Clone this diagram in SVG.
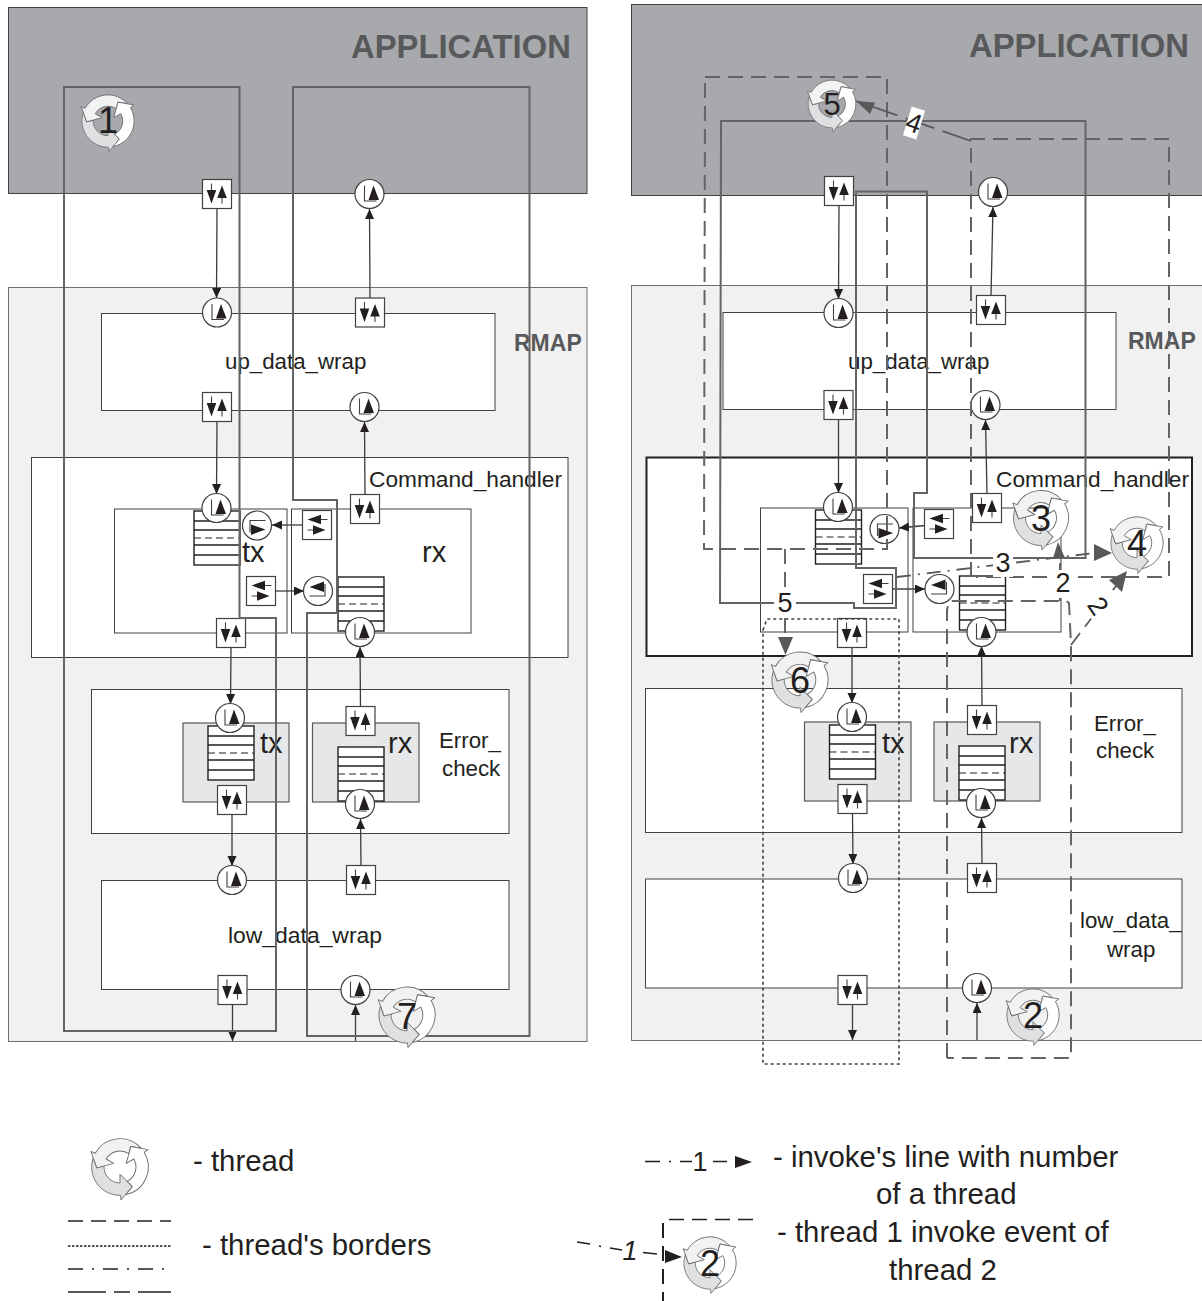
<svg xmlns="http://www.w3.org/2000/svg" width="1202" height="1301" viewBox="0 0 1202 1301">
<style>
text{font-family:"Liberation Sans",Arial,sans-serif;fill:#231f20}
.t22{font-size:22.300px}.t28{font-size:29px}.t29{font-size:29.400px}.t26{font-size:27px}
.big{font-size:32.800px;font-weight:bold;fill:#58595b}.rm{font-size:23px;font-weight:bold;fill:#58595b}
.num{font-size:36px;text-anchor:middle}
.blk{fill:#fff;stroke:#414042;stroke-width:1}
.app{fill:#a7a9ac;stroke:#414042;stroke-width:1}
.rmap{fill:#f1f1f2;stroke:#6d6e71;stroke-width:1}
.gry{fill:#e6e7e8;stroke:#58595b;stroke-width:1.2}
.bd{fill:none;stroke:#636466;stroke-width:2}
.dash{stroke-dasharray:15 8}
.dot{stroke-dasharray:3 3}
.conn{fill:none;stroke:#3c3c3e;stroke-width:1.3;marker-end:url(#ah)}
.inv{fill:none;stroke:#58595b;stroke-width:1.8}
.lg{fill:none;stroke:#231f20;stroke-width:1.6}
</style>
<defs>
<marker id="ah" markerUnits="userSpaceOnUse" markerWidth="10" markerHeight="11" refX="10" refY="4.5" orient="auto"><path d="M0 0L10 4.5L0 9Z" fill="#231f20"/></marker>
<g id="box"><rect x="-14.5" y="-14.5" width="29" height="29" fill="#fff" stroke="#414042" stroke-width="1.2"/><path d="M-5.5-10.5V4M5 -4V9.5" stroke="#414042" stroke-width="1.1" fill="none"/><path d="M-10.300-4H-.7L-5.500 9.500ZM.2 4H9.800L5-8.500Z" fill="#231f20"/></g>
<g id="cir"><circle r="14.5" fill="#fff" stroke="#414042" stroke-width="1.2"/><path d="M-5-8.5V7H7" stroke="#414042" stroke-width="1.1" fill="none"/><path d="M4-8.500L9.500 6H-1Z" fill="#231f20"/></g>
<g id="stk"><rect width="46" height="54" fill="#fff" stroke="#231f20" stroke-width="1.4"/><path d="M0 10H46M0 19H46M0 34H46M0 44H46" stroke="#231f20" stroke-width="1.4"/><path d="M0 27H46" stroke="#231f20" stroke-width="1.1" stroke-dasharray="7 4"/></g>
<g id="thr" stroke="#6d6e71" stroke-width=".9" stroke-linejoin="round">
<path d="M1 32L.5 27.5A27.5 27.5 0 0 1-26-8.9L-22.5.9L-15.5-.9A15.5 15.5 0 0 0 0 15.5L0 7L12 19Z" fill="#dfe0e2"/>
<path d="M1 32L.5 27.5A27.5 27.5 0 0 1-26-8.9L-22.5.9L-15.5-.9A15.5 15.5 0 0 0 0 15.5L0 7L12 19Z" fill="#f1f2f2" transform="rotate(120)"/>
<path d="M1 32L.5 27.5A27.5 27.5 0 0 1-26-8.9L-22.5.9L-15.5-.9A15.5 15.5 0 0 0 0 15.5L0 7L12 19Z" fill="#fff" transform="rotate(240)"/>
</g>
</defs>

<g id="blocks-left">
<rect id="app-l" class="app" x="8.5" y="7.5" width="578.5" height="186"/>
<rect id="rmap-l" class="rmap" x="8.5" y="287.5" width="578.5" height="754"/>
<rect id="up-l" class="blk" x="101.5" y="313.5" width="393.5" height="97"/>
<rect id="cmd-l" class="blk" x="31.5" y="457.5" width="536.5" height="200"/>
<rect id="ctx-l" class="blk" x="114.5" y="509" width="172.5" height="124"/>
<rect id="crx-l" class="blk" x="291.5" y="509" width="179.5" height="124"/>
<rect id="err-l" class="blk" x="91.5" y="689.5" width="417.5" height="144"/>
<rect id="etx-l" class="gry" x="183" y="723" width="106" height="79"/>
<rect id="erx-l" class="gry" x="312.5" y="723" width="106.5" height="79"/>
<rect id="low-l" class="blk" x="101.5" y="880.5" width="407.5" height="109"/>
</g>
<g id="blocks-right">
<rect id="app-r" class="app" x="631.5" y="4.5" width="578" height="191"/>
<rect id="rmap-r" class="rmap" x="631.5" y="285.5" width="578" height="755"/>
<rect id="up-r" class="blk" x="723" y="312.5" width="393" height="97"/>
<rect id="cmd-r" class="blk" x="646.5" y="457.5" width="545.5" height="198.5" style="stroke:#231f20;stroke-width:2"/>
<rect id="ctx-r" class="blk" x="760.5" y="508" width="147.5" height="124"/>
<rect id="crx-r" class="blk" x="913" y="508" width="148" height="124"/>
<rect id="err-r" class="blk" x="645.5" y="688.5" width="536.5" height="144"/>
<rect id="etx-r" class="gry" x="804.5" y="722" width="106.5" height="79"/>
<rect id="erx-r" class="gry" x="934" y="722" width="106" height="79"/>
<rect id="low-r" class="blk" x="645.5" y="879" width="536.5" height="109"/>
</g>

<g id="labels">
<text class="big" x="351" y="58">APPLICATION</text>
<text class="big" x="969" y="57">APPLICATION</text>
<text class="rm" x="514" y="351">RMAP</text>
<text class="rm" x="1128" y="349">RMAP</text>
<text class="t22" x="225" y="369">up_data_wrap</text>
<text class="t22" x="848" y="369">up_data_wrap</text>
<text class="t22" x="369" y="487" style="font-size:22.700px">Command_handler</text>
<text class="t22" x="996" y="487" style="font-size:22.700px">Command_handler</text>
<text class="t28" x="242" y="562">tx</text>
<text class="t28" x="422" y="562">rx</text>
<text class="t28" x="260" y="753">tx</text>
<text class="t28" x="388" y="753">rx</text>
<text class="t28" x="882" y="753">tx</text>
<text class="t28" x="1009" y="753">rx</text>
<text class="t22" x="439" y="748">Error_</text>
<text class="t22" x="442" y="776">check</text>
<text class="t22" x="1094" y="731">Error_</text>
<text class="t22" x="1096" y="758">check</text>
<text class="t22" x="228" y="943" style="font-size:22.900px">low_data_wrap</text>
<text class="t22" x="1080" y="928">low_data_</text>
<text class="t22" x="1107" y="957">wrap</text>
</g>

<g id="stacks">
<use id="s1" href="#stk" x="194" y="511"/>
<use id="s2" href="#stk" x="338" y="577"/>
<use id="s3" href="#stk" x="208" y="726"/>
<use id="s4" href="#stk" x="338" y="747"/>
<use id="s5" href="#stk" x="815.5" y="510"/>
<use id="s6" href="#stk" x="959.5" y="576"/>
<use id="s7" href="#stk" x="829.5" y="725"/>
<use id="s8" href="#stk" x="959" y="746"/>
</g>

<g id="connectors">
<path class="conn" d="M217 209L216.500 298"/>
<path class="conn" d="M370 298L369.500 209"/>
<path class="conn" d="M217 422L216.500 494"/>
<path class="conn" d="M365 495L364.500 422"/>
<path class="conn" d="M303 525L272 525"/>
<path class="conn" d="M276 591L304 591"/>
<path class="conn" d="M231 648L230.500 704"/>
<path class="conn" d="M360.500 707L360 647"/>
<path class="conn" d="M232 814L232 866"/>
<path class="conn" d="M361 866L360.500 819"/>
<path class="conn" d="M232.500 1004L232.500 1041"/>
<path class="conn" d="M355.500 1041L355.500 1005"/>
<path class="conn" d="M839 205L838.500 299"/>
<path class="conn" d="M991 296L993 207"/>
<path class="conn" d="M838.500 419L838.500 493"/>
<path class="conn" d="M987 494L985.500 420"/>
<path class="conn" d="M925 525.500L899 528"/>
<path class="conn" d="M892 589L925 589"/>
<path class="conn" d="M852 647L852 703"/>
<path class="conn" d="M982 706L981.500 646"/>
<path class="conn" d="M852.500 813L853 864"/>
<path class="conn" d="M982 864L981.500 818"/>
<path class="conn" d="M852.500 1004L852.500 1040"/>
<path class="conn" d="M977 1040L977 1003"/>
</g>

<g id="nodes">
<use id="b1" href="#box" x="217" y="194"/>
<use id="c1" href="#cir" x="369.500" y="194"/>
<use id="c2" href="#cir" x="217" y="312.500"/>
<use id="b2" href="#box" x="370" y="312.500"/>
<use id="b3" href="#box" x="217" y="407"/>
<use id="c3" href="#cir" x="364.500" y="407"/>
<use id="c4" href="#cir" x="216.500" y="508"/>
<use id="b4" href="#box" x="365" y="509"/>
<g id="c5" transform="translate(257 525.500) rotate(90)"><use href="#cir"/></g>
<g id="b5" transform="translate(317 525) rotate(90)"><use href="#box"/></g>
<g id="b6" transform="translate(261 591) rotate(90)"><use href="#box"/></g>
<g id="c6" transform="translate(318 591) rotate(-90)"><use href="#cir"/></g>
<use id="b7" href="#box" x="231" y="633"/>
<use id="c7" href="#cir" x="360" y="632"/>
<use id="c8" href="#cir" x="230" y="718"/>
<use id="b8" href="#box" x="360.500" y="721"/>
<use id="b9" href="#box" x="232" y="800"/>
<use id="c9" href="#cir" x="360" y="804"/>
<use id="c10" href="#cir" x="232" y="880"/>
<use id="b10" href="#box" x="361" y="880"/>
<use id="b11" href="#box" x="232.500" y="990"/>
<use id="c11" href="#cir" x="355.500" y="990"/>

<use id="b12" href="#box" x="839" y="191"/>
<use id="c12" href="#cir" x="993" y="192"/>
<use id="c13" href="#cir" x="838.500" y="313"/>
<use id="b13" href="#box" x="991" y="310"/>
<use id="b14" href="#box" x="838.500" y="405"/>
<use id="c14" href="#cir" x="985.500" y="405"/>
<use id="c15" href="#cir" x="838" y="507"/>
<use id="b15" href="#box" x="987" y="508"/>
<g id="c16" transform="translate(884.500 529) rotate(90)"><use href="#cir"/></g>
<g id="b16" transform="translate(939 524) rotate(90)"><use href="#box"/></g>
<g id="b17" transform="translate(878 589) rotate(90)"><use href="#box"/></g>
<g id="c17" transform="translate(939.500 589) rotate(-90)"><use href="#cir"/></g>
<use id="b18" href="#box" x="852" y="633"/>
<use id="c18" href="#cir" x="981.500" y="632"/>
<use id="c19" href="#cir" x="852" y="717"/>
<use id="b19" href="#box" x="982" y="720"/>
<use id="b20" href="#box" x="852.500" y="799"/>
<use id="c20" href="#cir" x="981" y="803"/>
<use id="c21" href="#cir" x="853" y="878"/>
<use id="b21" href="#box" x="982" y="878"/>
<use id="b22" href="#box" x="852.500" y="990"/>
<use id="c22" href="#cir" x="977" y="988"/>
</g>

<g id="thread-borders">
<path class="bd" d="M64 87H239.500V618H276V1031H64Z"/>
<path class="bd" d="M293 87H529.500V1036H307V613H337V500H293Z"/>
<path class="bd" d="M721 121H1085.500V558H914V493H927V191.500H856V568H896V608H854V603H720Z"/>
<path class="bd dash" d="M705 77H887V549H704Z"/>
<path class="bd dash" d="M971 577V139H1169V577H976"/>
<path class="bd dash" d="M947 1058V610L949 601H1066L1069 603L1071 645V1058H947"/>
<path class="bd dot" style="stroke:#414042;stroke-width:1.6" d="M763 630L767 619H899V1064H763Z"/>
</g>

<g id="invokes">
<path class="inv dash" d="M785 549V638"/>
<path d="M778 637H793L785.500 655Z" fill="#58595b"/>
<rect x="774" y="589" width="22" height="28" fill="#fff"/>
<text class="t26" x="785" y="612" text-anchor="middle">5</text>

<path class="inv" stroke-dasharray="30 9" d="M971 141L856 101"/>
<path d="M856 101L875 102.500L870 114Z" fill="#58595b"/>
<rect x="907" y="108" width="14" height="30" fill="#fff" transform="rotate(17 914 123)"/>
<text class="t26" x="914" y="132" text-anchor="middle" transform="rotate(20 914 123)">4</text>

<path class="inv" stroke-dasharray="14 7 2 7" d="M897 577L1094 553"/>
<path d="M1094 544L1112 553L1094 561Z" fill="#58595b"/>
<rect x="993" y="549" width="20" height="28" fill="#fff"/>
<text class="t26" x="1003" y="572" text-anchor="middle">3</text>

<path class="inv dash" d="M1060 601V558"/>
<path d="M1053 558L1058 542L1065 558Z" fill="#58595b"/>
<rect x="1052" y="570" width="22" height="28" fill="#fff"/>
<text class="t26" x="1063" y="592" text-anchor="middle">2</text>

<path class="inv dash" d="M1071 645L1116 586"/>
<path d="M1109 580L1127 571L1122 592Z" fill="#58595b"/>
<rect x="1086" y="592" width="24" height="28" fill="#fff" transform="rotate(40 1098 606)"/>
<text class="t26" x="1098" y="615" text-anchor="middle" transform="rotate(55 1098 606)">2</text>
</g>

<g id="thread1"><use href="#thr" transform="translate(108 121) scale(.95)"/><text class="num" x="108" y="133">1</text></g>
<g id="thread7"><use href="#thr" transform="translate(407 1015) scale(1.02)"/><text class="num" x="407" y="1029">7</text></g>
<g id="thread5"><use href="#thr" transform="translate(832 104) scale(.87)"/><text class="num" x="832" y="115" style="font-size:31px">5</text></g>
<g id="thread3"><use href="#thr" transform="translate(1041 518)"/><text class="num" x="1041" y="531">3</text></g>
<g id="thread4"><use href="#thr" transform="translate(1137 543) scale(.95)"/><text class="num" x="1137" y="556">4</text></g>
<g id="thread6"><use href="#thr" transform="translate(800 680) scale(1.02)"/><text class="num" x="800" y="693">6</text></g>
<g id="thread2"><use href="#thr" transform="translate(1033 1015) scale(.95)"/><text class="num" x="1033" y="1028">2</text></g>

<g id="legend">
<use href="#thr" transform="translate(120 1167) scale(1.03)"/>
<text class="t29" x="193" y="1171">- thread</text>
<path class="lg" stroke-dasharray="15 8" d="M68 1221H171"/>
<path class="lg" style="stroke-width:1.3" stroke-dasharray="2.500 1.500" d="M68 1246H171"/>
<path class="lg" stroke-dasharray="15 9 2 9" d="M68 1269H171"/>
<path class="lg" d="M68 1292H106M114 1292H130M138 1292H171"/>
<text class="t29" x="202" y="1255">- thread's borders</text>
<path class="lg" d="M645 1161.500H660M669 1161.500H671M680 1161.500H692M713 1161.500H727"/>
<text class="t26" x="700" y="1171" text-anchor="middle">1</text>
<path d="M735 1156L752 1162L735 1168Z" fill="#231f20"/>
<text class="t29" x="773" y="1167">- invoke's line with number</text>
<text class="t29" x="876" y="1204">of a thread</text>
<path class="lg" d="M577 1242L590 1244M599 1246L601 1246.500M610 1248L622 1250M643 1252.500L657 1254"/>
<text class="t26" x="630" y="1260" text-anchor="middle" style="font-style:italic">1</text>
<path class="lg" style="stroke-width:2" stroke-dasharray="15 8" d="M663 1223V1301"/>
<path class="lg" d="M669 1219.500H755" stroke-dasharray="15 8"/>
<path d="M665 1250L682 1257L665 1263Z" fill="#231f20"/>
<use href="#thr" transform="translate(710 1263) scale(.95)"/>
<text class="num" x="710" y="1276">2</text>
<text class="t29" x="777" y="1242">- thread 1 invoke event of</text>
<text class="t29" x="889" y="1280">thread 2</text>
</g>
</svg>
